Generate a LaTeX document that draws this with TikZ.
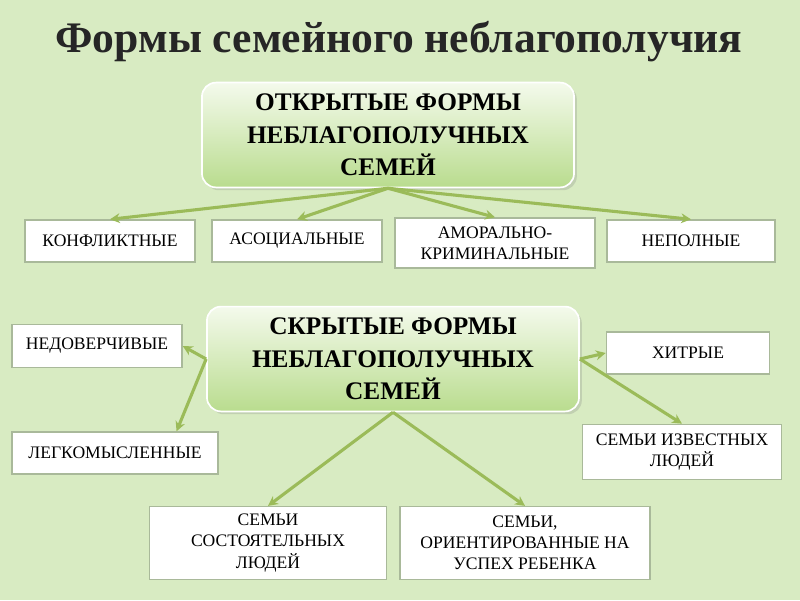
\documentclass[tikz,border=0pt]{standalone}
\usepackage{fontspec}
\setmainfont{Liberation Serif}
\usetikzlibrary{arrows.meta,shadows}
\definecolor{bggreen}{HTML}{D8EBC2}
\definecolor{arrgreen}{HTML}{9BBB59}
\definecolor{boxline}{HTML}{A9B99A}
\definecolor{bigtop}{HTML}{F4FAEC}
\definecolor{bigbot}{HTML}{B9DC8E}
\tikzset{
  bigbox/.style={draw=white, line width=1.2pt, rounded corners=10pt, top color=bigtop, bottom color=bigbot,
    minimum width=9.3cm, minimum height=2.62cm, align=center, font=\fontsize{18}{23}\selectfont\bfseries,
    drop shadow={opacity=0.25, shadow xshift=2pt, shadow yshift=-2pt}},
  smallbox/.style={draw=boxline, line width=1pt, fill=white, align=center, inner sep=1pt,
    font=\fontsize{12.5}{15}\selectfont},
  link/.style={draw=arrgreen, line width=2.2pt, -{Stealth[length=7pt,width=7pt]}}
}
\begin{document}
\begin{tikzpicture}[x=0.025cm, y=-0.025cm]
  \fill[bggreen] (0,0) rectangle (800,600);
  \node[font=\fontsize{31}{34}\selectfont\bfseries, text=black!85] (title) at (399,42) {Формы семейного неблагополучия};

  % open forms
  \node[bigbox] (open) at (388,135) {ОТКРЫТЫЕ ФОРМЫ\\НЕБЛАГОПОЛУЧНЫХ\\СЕМЕЙ};
  \node[smallbox, minimum width=4.25cm, minimum height=1.05cm] (conf) at (110,241) {КОНФЛИКТНЫЕ};
  \node[smallbox, minimum width=4.25cm, minimum height=1.05cm] (asoc) at (297,241) {АСОЦИАЛЬНЫЕ};
  \node[smallbox, minimum width=5cm, minimum height=1.25cm] (amor) at (495,243) {АМОРАЛЬНО-\\КРИМИНАЛЬНЫЕ};
  \node[smallbox, minimum width=4.2cm, minimum height=1.05cm] (nepol) at (691,241) {НЕПОЛНЫЕ};

  % hidden forms
  \node[bigbox] (hid) at (393,359) {СКРЫТЫЕ ФОРМЫ\\НЕБЛАГОПОЛУЧНЫХ\\СЕМЕЙ};
  \node[smallbox, minimum width=4.25cm, minimum height=1.07cm] (nedov) at (97,346) {НЕДОВЕРЧИВЫЕ};
  \node[smallbox, minimum width=5.15cm, minimum height=1.05cm] (legk) at (115,453) {ЛЕГКОМЫСЛЕННЫЕ};
  \node[smallbox, minimum width=4.08cm, minimum height=1.05cm] (hitr) at (688,353) {ХИТРЫЕ};
  \node[smallbox, minimum width=4.98cm, minimum height=1.38cm] (izv) at (682,452) {СЕМЬИ ИЗВЕСТНЫХ\\ЛЮДЕЙ};
  \node[smallbox, minimum width=5.92cm, minimum height=1.82cm] (sost) at (268,543) {СЕМЬИ\\СОСТОЯТЕЛЬНЫХ\\ЛЮДЕЙ};
  \node[smallbox, minimum width=6.25cm, minimum height=1.82cm] (usp) at (525,543) {СЕМЬИ,\\ОРИЕНТИРОВАННЫЕ НА\\УСПЕХ РЕБЕНКА};

  \draw[link] (open.south) -- (conf.north);
  \draw[link] (open.south) -- (asoc.north);
  \draw[link] (open.south) -- (amor.north);
  \draw[link] (open.south) -- (nepol.north);

  \draw[link] (hid.west) -- (nedov.east);
  \draw[link] (hid.west) -- ([xshift=-30]legk.north east);
  \draw[link] (hid.east) -- (hitr.west);
  \draw[link] (hid.east) -- (izv.north);
  \draw[link] (hid.south) -- (sost.north);
  \draw[link] (hid.south) -- (usp.north);
\end{tikzpicture}
\end{document}
